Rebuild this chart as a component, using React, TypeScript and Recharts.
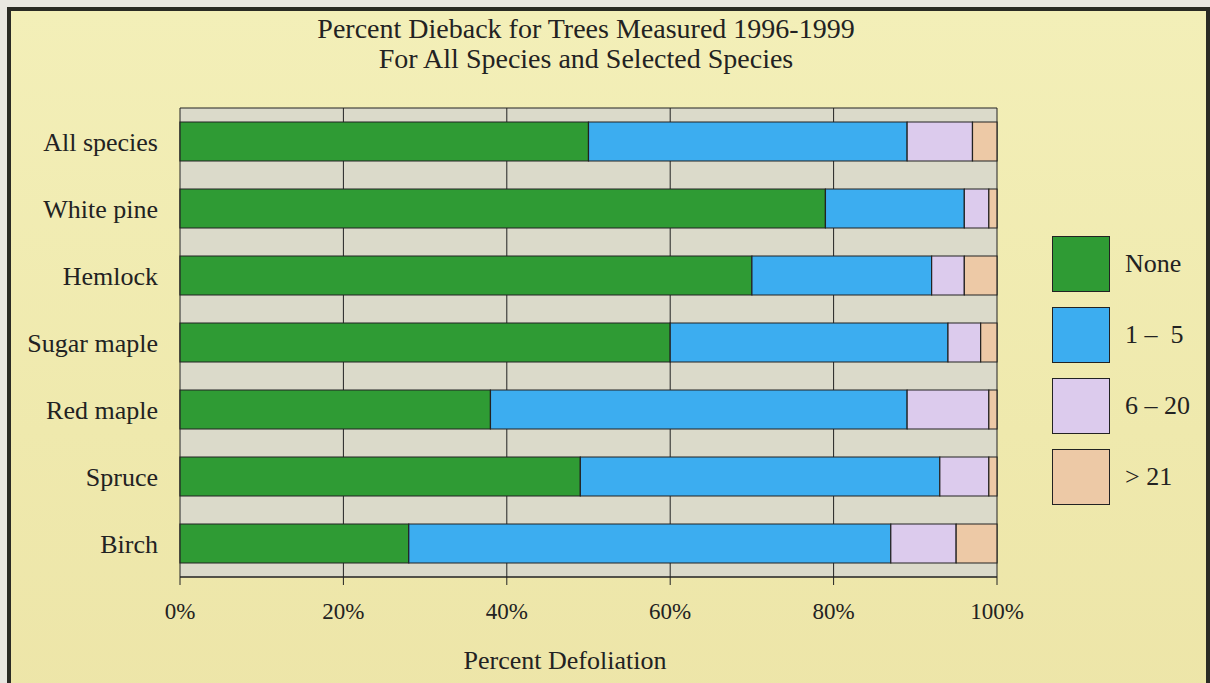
import { BarChart, Bar, XAxis, YAxis, CartesianGrid } from 'recharts';

const species = ['All species', 'White pine', 'Hemlock', 'Sugar maple', 'Red maple', 'Spruce', 'Birch'];
const noneValues = [50, 79, 70, 60, 38, 49, 28];
const lowValues = [39, 17, 22, 34, 51, 44, 59];
const midValues = [8, 3, 4, 4, 10, 6, 8];
const highValues = [3, 1, 4, 2, 1, 1, 5];
const xTicks = [0, 20, 40, 60, 80, 100];

const seriesKeys = ['none', 'low', 'mid', 'high'];
const seriesLabels = ['None', '1 –  5', '6 – 20', '> 21'];
const COLORS = ['#2f9b34', '#3cadf0', '#dccbed', '#edc9a6'];

const data = species.map((name, i) => ({
  name,
  none: noneValues[i],
  low: lowValues[i],
  mid: midValues[i],
  high: highValues[i],
}));

const font = '"Liberation Serif", "Times New Roman", serif';

// legend sits outside the chart so it doesn't eat plot width
function LegendBox() {
  return (
    <div style={{ position: 'absolute', left: 1052, top: 228, fontFamily: font }}>
      {seriesLabels.map((label, i) => (
        <div key={label} style={{ display: 'flex', alignItems: 'center', height: 71 }}>
          <div
            style={{
              width: 56,
              height: 54,
              background: COLORS[i],
              border: '1.5px solid #222',
            }}
          />
          <span style={{ marginLeft: 15, fontSize: 26, color: '#222', whiteSpace: 'pre' }}>{label}</span>
        </div>
      ))}
    </div>
  );
}

export default function App() {
  return (
    <div style={{ position: 'absolute', left: 0, top: 0, width: 1210, height: 683, overflow: 'hidden', background: '#e9e7e1' }}>
      <div
        style={{
          position: 'absolute',
          left: 7,
          top: 7,
          width: 1195,
          height: 700,
          background: 'linear-gradient(180deg, #f3efb8 0%, #efe9ad 60%, #ede5a8 100%)',
          borderLeft: '4px solid #2a2a24',
          borderTop: '4px solid #2a2a24',
          borderRight: '4px solid #2a2a24',
        }}
      />
      <div
        style={{
          position: 'absolute',
          left: 0,
          top: 14,
          width: 1172,
          textAlign: 'center',
          fontFamily: font,
          fontSize: 28,
          lineHeight: '30px',
          color: '#222',
        }}
      >
        Percent Dieback for Trees Measured 1996-1999
        <br />
        For All Species and Selected Species
      </div>
      <div style={{ position: 'absolute', left: 0, top: 0 }}>
        <BarChart
          width={1210}
          height={683}
          data={data}
          layout="vertical"
          margin={{ top: 108, right: 213, bottom: 66, left: 10 }}
          barSize={39}
        >
          <CartesianGrid
            fill="#dbdaca"
            fillOpacity={1}
            stroke="#222"
            strokeOpacity={1}
            horizontalPoints={[108, 577]}
          />
          <XAxis
            type="number"
            domain={[0, 100]}
            ticks={xTicks}
            tickFormatter={(v) => `${v}%`}
            axisLine={{ stroke: '#222' }}
            tickLine={{ stroke: '#222' }}
            tickSize={8}
            tickMargin={18}
            height={40}
            tick={{ fill: '#222', fontSize: 23, fontFamily: font }}
          />
          <YAxis
            type="category"
            dataKey="name"
            width={170}
            axisLine={false}
            tickLine={false}
            tickMargin={16}
            tick={{ fill: '#222', fontSize: 26, fontFamily: font }}
          />
          {seriesKeys.map((key, i) => (
            <Bar
              key={key}
              dataKey={key}
              name={seriesLabels[i]}
              stackId="a"
              fill={COLORS[i]}
              stroke="#222"
              strokeWidth={1.2}
              isAnimationActive={false}
            />
          ))}
        </BarChart>
      </div>
      <div
        style={{
          position: 'absolute',
          left: 365,
          top: 646,
          width: 400,
          textAlign: 'center',
          fontFamily: font,
          fontSize: 26,
          lineHeight: '30px',
          color: '#222',
        }}
      >
        Percent Defoliation
      </div>
      <LegendBox />
    </div>
  );
}
